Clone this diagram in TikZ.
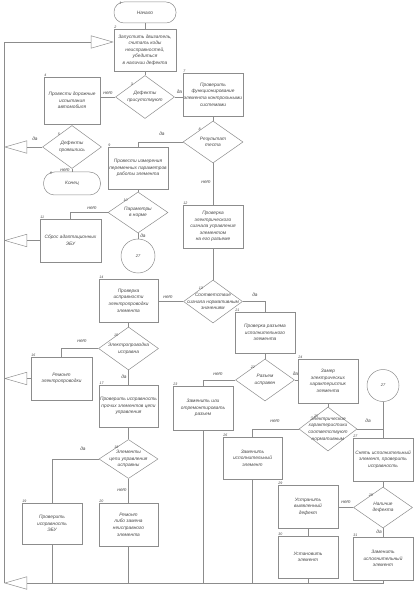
\documentclass[tikz,border=0pt]{standalone}
\usepackage{fontspec}
\setmainfont{Liberation Sans}
\usetikzlibrary{shapes.geometric,arrows.meta,calc}
\begin{document}
\begin{tikzpicture}[x=1pt,y=-1pt,
  every node/.style={font=\fontsize{4.8}{6.6}\selectfont\itshape, text=black!72},
  ln/.style={draw=black!45, line width=0.5pt},
  box/.style={ln, rectangle, minimum width=60pt, minimum height=43pt, inner sep=1pt, align=center},
  term/.style={ln, rectangle, rounded corners=10pt, minimum width=62pt, minimum height=21pt, align=center},
  dia/.style={ln, diamond, minimum width=59pt, minimum height=43pt, inner sep=0pt},
  dtext/.style={align=center, inner sep=0pt},
  circ/.style={ln, circle, minimum size=33pt, inner sep=0pt, font=\fontsize{4}{5}\selectfont\itshape},
  num/.style={font=\fontsize{3.6}{4}\selectfont\itshape, inner sep=0.5pt},
  yn/.style={inner sep=0.5pt},
  ret/.style={ln, -{Triangle[open, length=23pt, width=13pt]}},
  con/.style={ln},
]
\useasboundingbox (0,0) rectangle (417,593);

% ---------- nodes ----------
\node[term, label={[num,anchor=north west,xshift=5pt]north west:1}] (t1) at (145,12.5) {Начало};
\node[box, minimum width=62pt, minimum height=42pt, label={[num,anchor=south west]north west:2}] (b2) at (145,50)
  {Запустить двигатель,\\считать коды\\неисправностей,\\убедиться\\в наличии дефекта};
\node[dia, label={[dtext]center:{Дефекты\\присутствуют}}, label={[num,anchor=south west]north west:3}] (d3) at (145,97) {};
\node[box, minimum width=56pt, minimum height=47pt, label={[num,anchor=south west]north west:4}] (b4) at (72,100.5)
  {Провести дорожные\\испытания\\автомобиля};
\node[dia, label={[dtext]center:{Дефекты\\проявились}}, label={[num,anchor=south west]north west:5}] (d5) at (72,147) {};
\node[term, minimum width=57pt, minimum height=23pt, rounded corners=11pt, label={[num,anchor=north west,xshift=6pt]north west:6}] (t6) at (72,183.5) {Конец};
\node[box, label={[num,anchor=south west]north west:7}] (b7) at (213,94.5)
  {Проверить\\функционирование\\элемента контрольными\\системами};
\node[dia, minimum width=60pt, minimum height=42pt, label={[dtext]center:{Результат\\теста}}, label={[num,anchor=south west]north west:8}] (d8) at (213,142) {};
\node[box, minimum height=42pt, label={[num,anchor=south west]north west:9}] (b9) at (138,168)
  {Провести измерения\\переменных параметров\\работы элемента};
\node[dia, minimum width=60pt, minimum height=41pt, label={[dtext]center:{Параметры\\в норме}}, label={[num,anchor=south west]north west:10}] (d10) at (138,212.5) {};
\node[box, minimum width=61pt, label={[num,anchor=south west]north west:11}] (b11) at (70.5,240.5)
  {Сброс адаптационных\\ЭБУ};
\node[circ, minimum size=34pt] (c1) at (138,256) {27};
\node[box, label={[num,anchor=south west]north west:12}] (b12) at (213,226.5)
  {Проверка\\электрического\\сигнала управления\\элементом\\на его разъеме};
\node[dia, label={[dtext]center:{Соответствие\\сигнала нормативным\\значениям}}, label={[num,anchor=south west]north west:13}] (d15) at (213,301.5) {};
\node[box, minimum width=59pt, label={[num,anchor=south west]north west:14}] (b14) at (128.5,300.5)
  {Проверка\\исправности\\электропроводки\\элемента};
\node[dia, minimum width=60pt, label={[dtext]center:{Электропроводка\\исправна}}, label={[num,anchor=south west]north west:15}] (d16) at (128.5,348.5) {};
\node[box, minimum width=61pt, label={[num,anchor=south west]north west:16}] (b17) at (61.5,378.5)
  {Ремонт\\электропроводки};
\node[box, minimum width=58pt, minimum height=42pt, label={[num,anchor=south west]north west:17}] (b18) at (128.5,406)
  {Проверить исправность\\прочих элементов цепи\\управления};
\node[dia, minimum height=39pt, label={[dtext]center:{Элементы\\цепи управления\\исправны}}, label={[num,anchor=south west]north west:18}] (d19) at (128.5,459) {};
\node[box, minimum height=41pt, label={[num,anchor=south west]north west:19}] (b20) at (52,523.5)
  {Проверить\\исправность\\ЭБУ};
\node[box, minimum width=59pt, label={[num,anchor=south west]north west:20}] (b21) at (128.5,524.5)
  {Ремонт\\либо замена\\неисправного\\элемента};
\node[box, minimum height=41pt, label={[num,anchor=south west]north west:21}] (b22) at (265,332.5)
  {Проверка разъема\\исполнительного\\элемента};
\node[dia, minimum height=42pt, label={[dtext]center:{Разъем\\исправен}}, label={[num,anchor=south west]north west:22}] (d23) at (265,380) {};
\node[box, minimum height=44pt, label={[num,anchor=south west]north west:23}] (b24) at (203,408)
  {Заменить или\\отремонтировать\\разъем};
\node[box, minimum height=44pt, label={[num,anchor=south west]north west:24}] (b25) at (328,381)
  {Замер\\электрических\\характеристик\\элемента};
\node[dia, minimum width=58pt, minimum height=44pt, label={[dtext]center:{Электрические\\характеристики\\соответствуют\\нормативным}}, label={[num,anchor=south west]north west:25}] (d26) at (328,429) {};
\node[circ, minimum size=32pt] (c2) at (383,385.5) {27};
\node[box, minimum width=59pt, minimum height=42pt, label={[num,anchor=south west]north west:26}] (b27) at (252.5,458)
  {Заменить\\исполнительный\\элемент};
\node[box, label={[num,anchor=south west]north west:27}] (b28) at (383,459.5)
  {Снять исполнительный\\элемент, проверить\\исправность};
\node[dia, minimum height=41pt, label={[dtext]center:{Наличие\\дефекта}}, label={[num,anchor=south west]north west:28}] (d29) at (383,507.5) {};
\node[box, label={[num,anchor=south west]north west:29}] (b30) at (308,506.5)
  {Устранить\\выявленный\\дефект};
\node[box, minimum height=42pt, label={[num,anchor=south west]north west:30}] (b31) at (308,557)
  {Установить\\элемент};
\node[box, label={[num,anchor=south west]north west:31}] (b32) at (383,558.5)
  {Заменить\\исполнительный\\элемент};

\coordinate (lt) at (4,42);
\coordinate (lb) at (4,583);
\coordinate (j) at (b28.north |- d26.east);

% ---------- connectors ----------
\draw[con] (t1) -- (b2);
\draw[con] (b2) -- (d3);
\draw[con] (d3.west) -- (d3.west -| b4.east);
\draw[con] (d3.east) -- (d3.east -| b7.west);
\draw[con] (b4) -- (d5);
\draw[con] (d5) -- (t6);
\draw[con] (b7) -- (d8);
\draw[con] (d8.west) -| (b9.north);
\draw[con] (d8) -- (b12);
\draw[con] (b9) -- (d10);
\draw[con] (d10.west) -| (b11.north);
\draw[con] (d10) -- (c1);
\draw[con] (b12) -- (d15);
\draw[con] (d15.west) -- (d15.west -| b14.east);
\draw[con] (d15.east) -| (b22.north);
\draw[con] (b14) -- (d16);
\draw[con] (d16.west) -| (b17.north);
\draw[con] (d16) -- (b18);
\draw[con] (b18) -- (d19);
\draw[con] (d19.west) -| (b20.north);
\draw[con] (d19) -- (b21);
\draw[con] (b22) -- (d23);
\draw[con] (d23.west) -| (b24.north);
\draw[con] (d23.east) -- (d23.east -| b25.west);
\draw[con] (b25) -- (d26);
\draw[con] (d26.west) -| (b27.north);
\draw[con] (d26.east) -| (b28.north);
\draw[con] (c2) -- (j);
\draw[con] (b28) -- (d29);
\draw[con] (d29.west) -- (d29.west -| b30.east);
\draw[con] (d29) -- (b32);
\draw[con] (b30) -- (b31);

% ---------- return lines ----------
\draw[con] (lb) -- (lt);
\draw[ret] (lt) -- (lt -| b2.west);
\draw[ret] (d5.west) -- (d5.west -| lt);
\draw[ret] (b11.west) -- (b11.west -| lt);
\draw[ret] (b17.west) -- (b17.west -| lt);
\draw[ret] (b32.south) -- (b32.south |- lb) -- (lb);
\draw[con] (b20.south) -- (b20.south |- lb);
\draw[con] (b21.south) -- (b21.south |- lb);
\draw[con] (b24.south) -- (b24.south |- lb);
\draw[con] (b27.south) -- (b27.south |- lb);
\draw[con] (b31.south) -- (b31.south |- lb);

% ---------- yes / no labels ----------
\node[yn] (n3a) at (108,93) {нет};
\node[yn] (n3b) at (179.5,92) {да};
\node[yn] (n5a) at (35,139) {да};
\node[yn] (n5b) at (65,170) {нет};
\node[yn] (n8a) at (162,134) {да};
\node[yn] (n8b) at (206,182) {нет};
\node[yn] (n10a) at (92,208) {нет};
\node[yn] (n10b) at (143,236) {да};
\node[yn] (n15a) at (168,297) {нет};
\node[yn] (n15b) at (255,295) {да};
\node[yn] (n16a) at (82,341) {нет};
\node[yn] (n16b) at (124,377) {да};
\node[yn] (n19a) at (83,449) {да};
\node[yn] (n19b) at (122,490) {нет};
\node[yn] (n23a) at (218,374) {нет};
\node[yn] (n23b) at (295.5,374) {да};
\node[yn] (n26a) at (275,421) {нет};
\node[yn] (n26b) at (368,421) {да};
\node[yn] (n29a) at (346,502) {нет};
\node[yn] (n29b) at (379,532) {да};
\end{tikzpicture}
\end{document}
